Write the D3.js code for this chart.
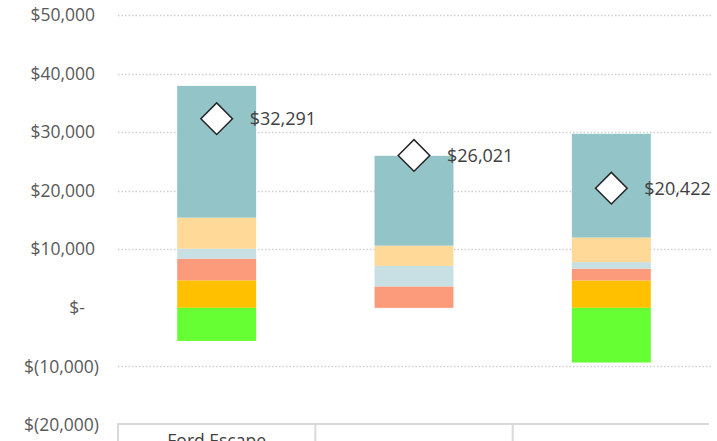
<!DOCTYPE html>
<html lang="en">
	<head>
		<meta charset="utf-8">
		<title>Cost stack</title>
		<script type="text/javascript" src="https://cdn.jsdelivr.net/npm/d3@7"></script>
		<style type="text/css">
			* { margin: 0; padding: 0; }
			body { background-color: white; overflow: hidden; }
			svg { display: block; }
			.tick-label { font-family: "Open Sans", sans-serif; font-size: 17.5px; fill: #595959; }
			.data-label { font-family: "Open Sans", sans-serif; font-size: 18px; fill: #404040; }
			.cat-label { font-family: "Open Sans", sans-serif; font-size: 17.5px; fill: #404040; }
			.grid line { stroke: #d0d0d0; stroke-width: 1.3; stroke-dasharray: 1.5,2; }
			.table line { stroke: #d9d9d9; stroke-width: 2; }
		</style>
	</head>
	<body>
		<div id="chart"></div>
		<script type="text/javascript">

			//Width and height
			var w = 717;
			var h = 441;

			//data
			var categories = ["Ford Escape", "", ""];
			var seriesNames = ["Fuel", "Insurance", "Maintenance", "Repairs", "Depreciation", "Incentives"];
			var seriesColors = ["#ffc000", "#fc9a7c", "#c8e0e3", "#fed998", "#92c4c8", "#66ff33"];
			var fuel = [4700, 0, 4680];
			var insurance = [3700, 3660, 2000];
			var maintenance = [1700, 3500, 1130];
			var repairs = [5300, 3460, 4200];
			var depreciation = [22500, 15340, 17700];
			var incentives = [-5650, 0, -9330];
			var netCost = [32291, 26021, 20422];
			var tickValues = [50000, 40000, 30000, 20000, 10000, 0, -10000, -20000];

			var seriesValues = [fuel, insurance, maintenance, repairs, depreciation, incentives];

			var svg = d3.select("#chart")
				.append("svg")
				.attr("width", w)
				.attr("height", h);

			//scales
			var y = d3.scaleLinear()
				.domain([-20000, 50000])
				.range([425, 15]);

			var cell = d3.scaleBand()
				.domain(d3.range(categories.length))
				.range([118, 710]);

			var barWidth = cell.bandwidth() * 0.4;

			//gridlines (no line at zero)
			svg.append("g")
				.attr("class", "grid")
				.selectAll("line")
				.data(tickValues.filter(function(d) { return d != 0 && d != -20000; }))
				.enter()
				.append("line")
				.attr("x1", 118)
				.attr("x2", 712)
				.attr("y1", function(d) { return Math.round(y(d)) + 0.5; })
				.attr("y2", function(d) { return Math.round(y(d)) + 0.5; });

			//tick labels, accounting style
			var fmt = d3.format(",");
			svg.append("g")
				.selectAll("text")
				.data(tickValues)
				.enter()
				.append("text")
				.attr("class", "tick-label")
				.attr("text-anchor", "end")
				.attr("x", function(d) {
					if (d < 0) return 99;
					if (d == 0) return 85;
					return 95;
				})
				.attr("y", function(d) { return y(d); })
				.attr("dy", "0.35em")
				.text(function(d) {
					if (d < 0) return "$(" + fmt(-d) + ")";
					if (d == 0) return "$-";
					return "$" + fmt(d);
				});

			//stack the segments: positives upward from zero, negatives downward
			var segments = [];
			categories.forEach(function(c, i) {
				var pos = 0, neg = 0;
				seriesValues.forEach(function(s, k) {
					var v = s[i];
					if (v >= 0) {
						segments.push({ i: i, k: k, y0: pos, y1: pos + v });
						pos += v;
					} else {
						segments.push({ i: i, k: k, y0: neg + v, y1: neg });
						neg += v;
					}
				});
			});

			svg.append("g")
				.selectAll("rect")
				.data(segments)
				.enter()
				.append("rect")
				.attr("x", function(d) { return cell(d.i) + cell.bandwidth() / 2 - barWidth / 2; })
				.attr("width", barWidth)
				.attr("y", function(d) { return y(d.y1); })
				.attr("height", function(d) { return y(d.y0) - y(d.y1); })
				.attr("fill", function(d) { return seriesColors[d.k]; });

			//net cost markers
			var diamond = d3.symbol().type(d3.symbolSquare).size(500);

			svg.append("g")
				.selectAll("path")
				.data(netCost)
				.enter()
				.append("path")
				.attr("d", diamond)
				.attr("transform", function(d, i) {
					return "translate(" + (cell(i) + cell.bandwidth() / 2) + "," + y(d) + ") rotate(45)";
				})
				.attr("fill", "white")
				.attr("stroke", "#262626")
				.attr("stroke-width", 1.5);

			svg.append("g")
				.selectAll("text")
				.data(netCost)
				.enter()
				.append("text")
				.attr("class", "data-label")
				.attr("x", function(d, i) { return cell(i) + cell.bandwidth() / 2 + 33; })
				.attr("y", function(d) { return y(d); })
				.attr("dy", "0.35em")
				.text(function(d) { return "$" + fmt(d); });

			//category table at the bottom
			var table = svg.append("g").attr("class", "table");

			table.append("line")
				.attr("x1", 117)
				.attr("x2", 709)
				.attr("y1", 424)
				.attr("y2", 424);

			table.selectAll(".divider")
				.data(d3.range(categories.length))
				.enter()
				.append("line")
				.attr("class", "divider")
				.attr("x1", function(i) { return cell(i); })
				.attr("x2", function(i) { return cell(i); })
				.attr("y1", 424)
				.attr("y2", h);

			svg.append("g")
				.selectAll("text")
				.data(categories)
				.enter()
				.append("text")
				.attr("class", "cat-label")
				.attr("text-anchor", "middle")
				.attr("x", function(d, i) { return cell(i) + cell.bandwidth() / 2; })
				.attr("y", 447)
				.text(function(d) { return d; });

		</script>
	</body>
</html>
